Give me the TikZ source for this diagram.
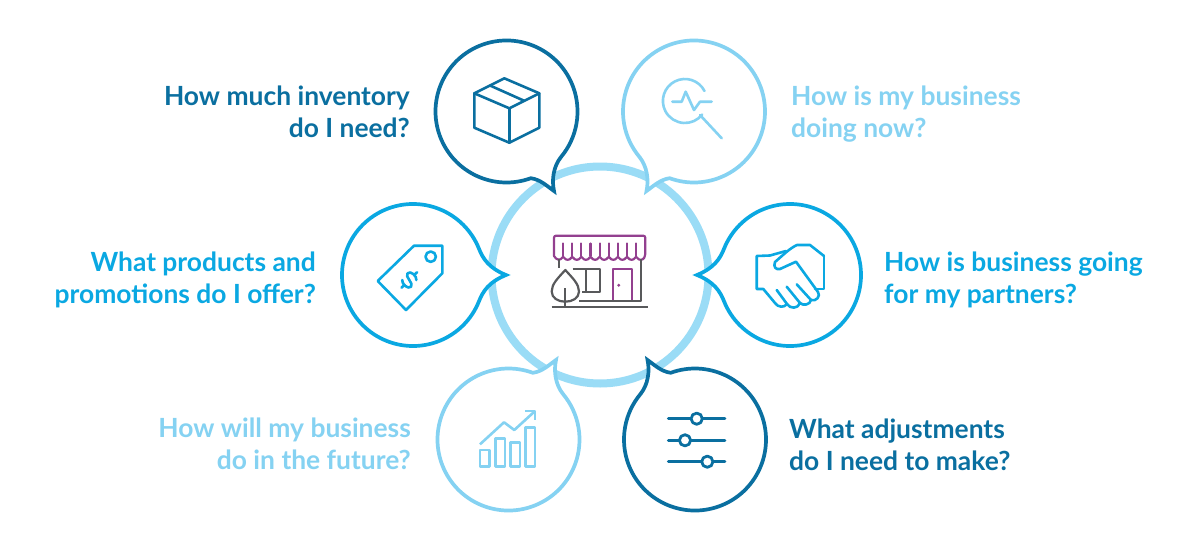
\documentclass[tikz,border=0pt]{standalone}
\usepackage{fontspec}
\setmainfont{Lato}
\definecolor{deepblue}{HTML}{0A6FA0}
\definecolor{midblue}{HTML}{0AA8E2}
\definecolor{paleblue}{HTML}{85D2F2}
\definecolor{ringblue}{HTML}{9ADCF6}
\definecolor{storegray}{HTML}{58595B}
\definecolor{storepurple}{HTML}{93408F}
\tikzset{
  bubble/.style={line width=3.7pt,fill=white,line join=miter,miter limit=10},
  icon/.style={line width=2.6pt,line join=round,line cap=round},
  label/.style={font=\bfseries\fontsize{26.4}{32}\selectfont,inner sep=0pt},
  rightlabel/.style={label,align=left,anchor=west},
  leftlabel/.style={label,align=right,anchor=east}
}
% Speech bubble with its tip on a diagonal; mirrored through the two scale factors
\newcommand{\diagbubble}[5]{%
  \begin{scope}[shift={(#1,#2)},xscale=#3,yscale=#4]
    \draw[bubble,#5] (40:71pt)
      .. controls (47,55) and (45,68) .. (47.5,79.5)
      .. controls (41,75) and (34,68) .. (24.3,66.7)
      arc[start angle=70,end angle=400,radius=71pt] -- cycle;
  \end{scope}}
% Speech bubble with its tip pointing sideways
\newcommand{\sidebubble}[4]{%
  \begin{scope}[shift={(#1,#2)},xscale=#3]
    \draw[bubble,#4] (-22:71pt)
      .. controls (70,-16) and (76,-7) .. (93,0)
      .. controls (76,7) and (70,16) .. (22:71pt)
      arc[start angle=22,end angle=338,radius=71pt] -- cycle;
  \end{scope}}
\begin{document}
\begin{tikzpicture}[x=1pt,y=1pt,yscale=-1]
\useasboundingbox (0,0) rectangle (1200,549);
\fill[white] (0,0) rectangle (1200,549);

% central ring
\draw[ringblue,line width=8pt] (600,275) circle[radius=108.5pt];

% bubbles
\diagbubble{506.5}{111.5}{1}{1}{draw=deepblue}
\diagbubble{694}{111.5}{-1}{1}{draw=paleblue}
\diagbubble{508.5}{439.5}{1}{-1}{draw=paleblue}
\diagbubble{695}{439.5}{-1}{-1}{draw=deepblue}
\sidebubble{413}{275}{1}{draw=midblue}
\sidebubble{790}{275}{-1}{draw=midblue}

% storefront: awning with scalloped edge, door
\draw[icon,storepurple,line width=2.2pt,rounded corners=2pt]
  (554,256) -- (554,235.7) -- (645.3,235.7) -- (645.3,256)
  \foreach \k in {1,...,10} {
    .. controls ({645.3-9.13*\k+6.5},260.5) and ({645.3-9.13*\k+2.5},260.5) .. ({645.3-9.13*\k},256) };
\draw[icon,storepurple,line width=2.2pt]
  \foreach \k in {1,...,9} { ({554+9.13*\k},243.5) -- ({554+9.13*\k},256) };
\draw[icon,storepurple,line width=2.2pt] (613.3,300.7) -- (613.3,269.3) -- (632,269.3) -- (632,300.7);
\fill[storepurple] (618.7,285.3) circle[radius=1.6pt];
% storefront: walls, window, tree, ground
\begin{scope}[icon,storegray,line width=2.2pt,line cap=butt]
  \draw (558.7,259) -- (558.7,268);
  \draw (641.3,259) -- (641.3,300.7) -- (579,300.7);
  \draw (572.7,269.3) -- (600,269.3) -- (600,292.3) -- (581.7,292.3);
  \draw (586,269.3) -- (586,292.3);
  \draw (565.3,270) .. controls (558,278) and (551.7,284) .. (551.7,291.5)
     .. controls (551.7,298) and (558,301.7) .. (565.3,301.7)
     .. controls (572.5,301.7) and (579,298) .. (579,291.5)
     .. controls (579,284) and (572.5,278) .. (565.3,270) -- cycle;
  \draw (565.3,288.3) -- (565.3,307.3);
  \draw (551.7,307.3) -- (648.3,307.3);
\end{scope}

% box
\begin{scope}[icon,deepblue]
  \draw (504.3,78.3) -- (539.3,93.3) -- (539.3,127.7) -- (509.3,142.7) -- (474.3,127.7) -- (474.3,93.3) -- cycle;
  \draw (474.3,93.3) -- (509.3,108.3) -- (539.3,93.3);
  \draw (509.3,108.3) -- (509.3,142.7);
  \draw (490,85.5) -- (524,100.7);
\end{scope}

% magnifier with pulse line
\begin{scope}[icon,paleblue]
  \draw (704.5,91) arc[start angle=-27,end angle=-322,radius=22pt];
  \draw (700,115) -- (721.7,138.3);
  \draw (672.3,101.7) -- (681.7,101.7) -- (685.7,91.7) -- (694,110) -- (700,101.7) -- (711.7,101.7);
\end{scope}

% price tag
\begin{scope}[icon,midblue]
  \draw (442.3,245.7) -- (414,245.7) -- (377.7,281) -- (406,310) -- (442.3,273.3) -- cycle;
  \draw (430.7,256.7) circle[radius=5.2pt];
  \begin{scope}[shift={(409.3,280)},rotate=45]
    \draw (5,-5) .. controls (3,-8) and (-6,-8) .. (-6,-3.5)
       .. controls (-6,1) and (6,-1) .. (6,3.5)
       .. controls (6,8) and (-3,8) .. (-5,5);
    \draw (0,-11) -- (0,-7.5);
    \draw (0,7.5) -- (0,11);
  \end{scope}
\end{scope}

% handshake
\begin{scope}[icon,midblue]
  \draw (786,251) -- (770,255.5) -- (756.7,256) -- (756.7,289) -- (763.3,289) -- (775,303)
     .. controls (778,307.5) and (784,308) .. (787,304)
     .. controls (790,309) and (798,309) .. (800,303)
     .. controls (803,306) and (810,305) .. (811,300)
     .. controls (816,302) and (821,296) .. (818,292);
  \draw (824,256) -- (810,245) -- (797,245)
     .. controls (790,248) and (782,256) .. (775,262)
     .. controls (773,267) and (776,270) .. (780,269)
     -- (796,261.7) -- (818,292);
  \draw (815,289) -- (824,289) -- (824,256);
  \draw (776.7,290) -- (787,304);
  \draw (786.7,286.7) -- (800,303);
  \draw (796.7,284.3) -- (811,300);
\end{scope}

% rising bar chart
\begin{scope}[icon,paleblue,line cap=butt]
  \draw (480,450) rectangle (489.3,466.7);
  \draw (495.7,438.3) rectangle (505,466.7);
  \draw (510.7,442.3) rectangle (520,466.7);
  \draw (525.7,427.7) rectangle (535,466.7);
  \draw (480,444.3) -- (504,422.3) -- (514.3,430) -- (534.3,411.7);
  \draw (525,411) -- (535,411) -- (535,420);
\end{scope}

% sliders
\begin{scope}[icon,deepblue,line width=2.8pt]
  \draw (668.3,418.7) -- (725,418.7);
  \draw (668.3,440.3) -- (725,440.3);
  \draw (668.3,461.7) -- (725,461.7);
  \draw[fill=white] (696.7,418.7) circle[radius=5.6pt];
  \draw[fill=white] (685,440.3) circle[radius=5.6pt];
  \draw[fill=white] (707.3,461.7) circle[radius=5.6pt];
\end{scope}

% questions
\node[leftlabel,text=deepblue] (qinventory) at (410,115) {\strut How much inventory\\\strut do I need?};
\node[rightlabel,text=paleblue] (qnow) at (791,115) {\strut How is my business\\\strut doing now?};
\node[leftlabel,text=midblue] (qoffer) at (316,281) {\strut What products and\\\strut promotions do I offer?};
\node[rightlabel,text=midblue] (qpartners) at (884,281) {\strut How is business going\\\strut for my partners?};
\node[leftlabel,text=paleblue] (qfuture) at (411,447) {\strut How will my business\\\strut do in the future?};
\node[rightlabel,text=deepblue] (qadjust) at (789,448) {\strut What adjustments\\\strut do I need to make?};
\end{tikzpicture}
\end{document}
